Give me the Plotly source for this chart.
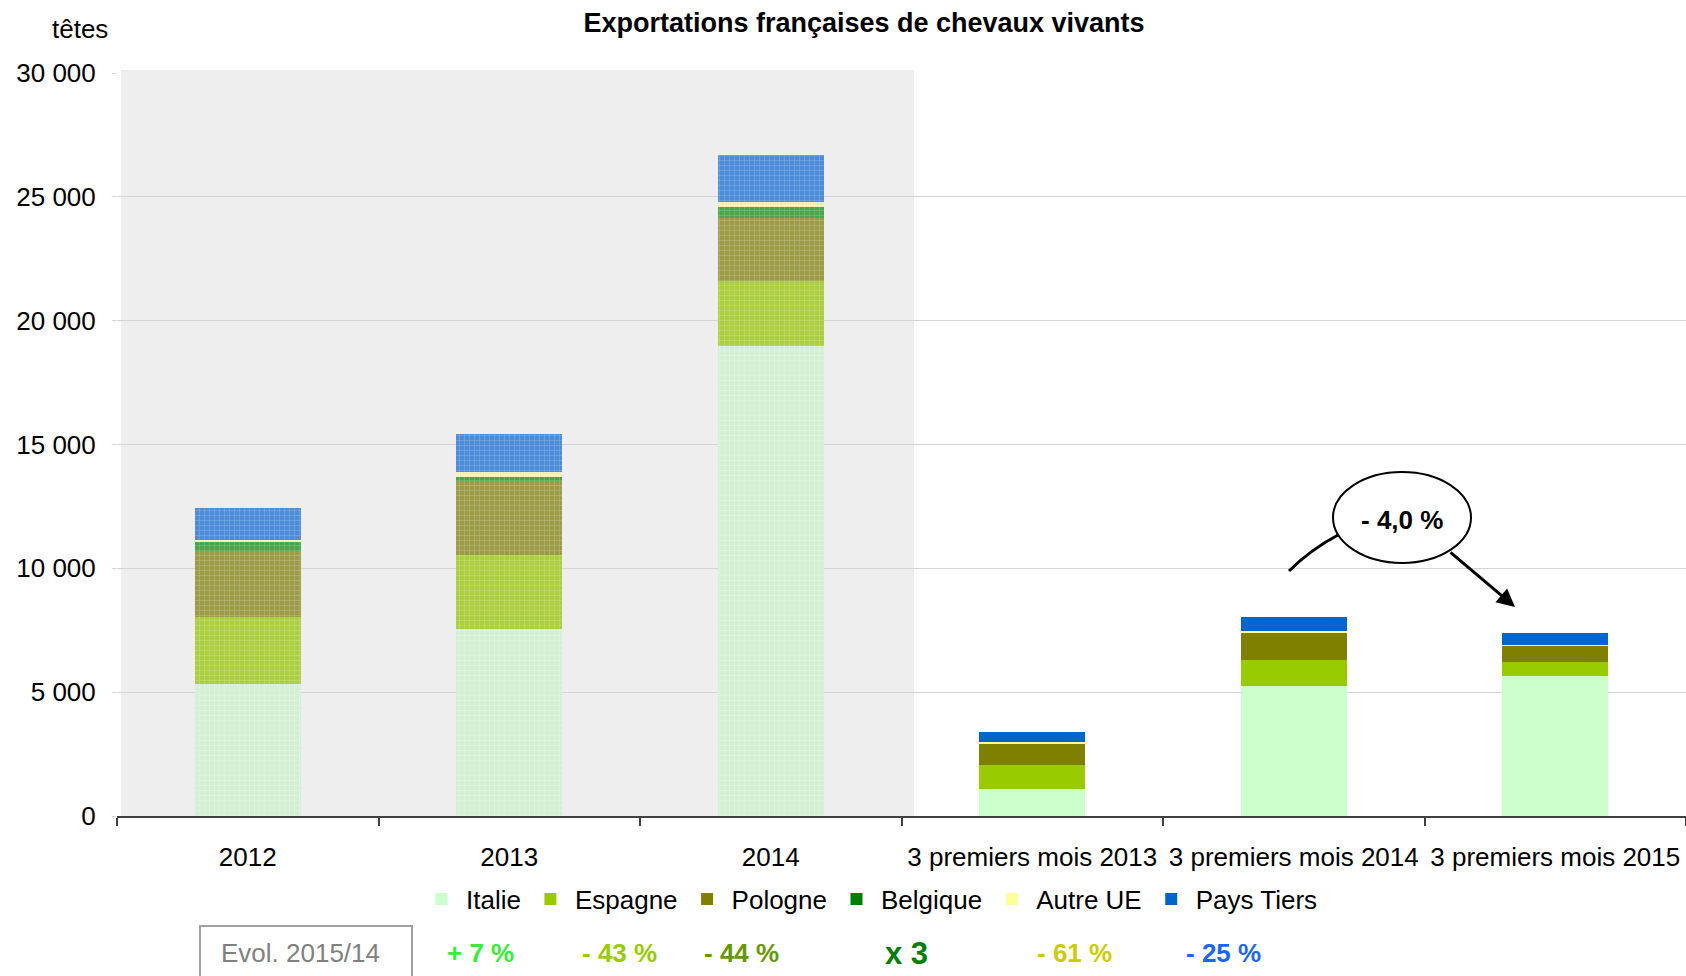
import plotly.graph_objects as go

# ---- data ----
categories = ["2012", "2013", "2014",
              "3 premiers mois 2013", "3 premiers mois 2014", "3 premiers mois 2015"]
series_names = ["Italie", "Espagne", "Pologne", "Belgique", "Autre UE", "Pays Tiers"]
italie = [5330, 7550, 18970, 1090, 5250, 5650]
espagne = [2690, 2970, 2630, 970, 1050, 570]
pologne = [2680, 3020, 2530, 850, 1090, 650]
belgique = [400, 150, 460, 10, 10, 30]
autre_ue = [50, 200, 200, 80, 80, 20]
pays_tiers = [1280, 1530, 1900, 400, 560, 470]
evol_labels = ["+ 7 %", "- 43 %", "- 44 %", "x 3", "- 61 %", "- 25 %"]
evol_total = "- 4,0 %"
y_ticks = [0, 5000, 10000, 15000, 20000, 25000, 30000]

series_values = [italie, espagne, pologne, belgique, autre_ue, pays_tiers]
solid_colors = ["#ccffcc", "#99cc00", "#808000", "#008000", "#ffff99", "#0066cc"]
faded_colors = ["#d4f0d4", "#abcf40", "#9c9c46", "#4ca44c", "#f4f0b4", "#4c8cd8"]
evol_colors = ["#33ee33", "#99cc00", "#669900", "#008000", "#cccc00", "#1a66ff"]

FONT = "Liberation Sans, Arial, sans-serif"
W, H = 1686, 976
L, R, T, B = 117, 0, 73, 160
PW, PH = W - L - R, H - T - B


def px(xp):
    return (xp - L) / PW


def py(yp):
    return (H - B - yp) / PH


fig = go.Figure()
# legend-bearing traces: partial-year (solid) bars
for name, vals, col in zip(series_names, series_values, solid_colors):
    fig.add_trace(go.Bar(
        x=categories[3:], y=vals[3:], name=name, legendgroup=name,
        marker=dict(color=col, line=dict(width=0)), width=0.405,
        hovertemplate="%{x}<br>" + name + ": %{y}<extra></extra>"))
# full-year bars with textured look
for name, vals, col in zip(series_names, series_values, faded_colors):
    fig.add_trace(go.Bar(
        x=categories[:3], y=vals[:3], name=name, legendgroup=name, showlegend=False,
        marker=dict(color=col, line=dict(width=0),
                    pattern=dict(shape="+", fgcolor="#ffffff", fgopacity=0.3,
                                 size=5, solidity=0.2)),
        width=0.405,
        hovertemplate="%{x}<br>" + name + ": %{y}<extra></extra>"))

shapes = [
    # shaded background behind full-year bars
    dict(type="rect", xref="paper", yref="paper", x0=px(121), x1=px(914),
         y0=py(818), y1=py(70), fillcolor="#eeeeee", line=dict(width=0),
         layer="below"),
    # Evol box
    dict(type="rect", xref="paper", yref="paper", x0=px(200), x1=px(412),
         y0=py(985), y1=py(926), fillcolor="rgba(0,0,0,0)",
         line=dict(color="#a0a0a0", width=2)),
    # ellipse
    dict(type="circle", xref="paper", yref="paper", x0=px(1333), x1=px(1471),
         y0=py(563), y1=py(472), fillcolor="white", line=dict(color="black", width=2)),
    # left connector curve
    dict(type="path", xref="paper", yref="paper",
         path=f"M {px(1289)},{py(571)} Q {px(1310)},{py(550)} {px(1338)},{py(535)}",
         line=dict(color="black", width=3)),
]

annotations = [
    dict(text="têtes", xref="paper", yref="paper", x=px(80), y=py(29),
         showarrow=False, font=dict(size=26, color="black", family=FONT),
         xanchor="center", yanchor="middle"),
    dict(text="<b>" + evol_total + "</b>", xref="paper", yref="paper",
         x=px(1402), y=py(520), showarrow=False,
         font=dict(size=26, color="black", family=FONT),
         xanchor="center", yanchor="middle"),
    dict(text="", xref="paper", yref="paper", x=px(1515), y=py(607),
         ax=1449 - 1515, ay=551 - 607, showarrow=True, arrowhead=2,
         arrowsize=1.2, arrowwidth=3, arrowcolor="black", standoff=0),
    dict(text="Evol. 2015/14", xref="paper", yref="paper", x=px(300), y=py(953),
         showarrow=False, font=dict(size=26, color="#808080", family=FONT),
         xanchor="center", yanchor="middle"),
]
evol_x = [480, 619, 741, 906, 1074, 1223]
for lab, col, xx in zip(evol_labels, evol_colors, evol_x):
    annotations.append(dict(
        text="<b>" + lab + "</b>", xref="paper", yref="paper", x=px(xx), y=py(953),
        showarrow=False, xanchor="center", yanchor="middle",
        font=dict(size=31 if lab.startswith("x") else 26, color=col, family=FONT)))

fig.update_layout(
    width=W, height=H,
    margin=dict(l=L, r=R, t=T, b=B, pad=0),
    paper_bgcolor="white", plot_bgcolor="rgba(0,0,0,0)",
    barmode="stack",
    separators=", ",
    font=dict(family=FONT, size=26, color="black"),
    title=dict(text="<b>Exportations françaises de chevaux vivants</b>",
               xref="container", yref="container", x=864 / W, y=1 - 23 / H,
               xanchor="center", yanchor="middle",
               font=dict(size=27, color="black", family=FONT)),
    xaxis=dict(type="category", categoryorder="array", categoryarray=categories,
               range=[-0.5, 5.5], showline=True, linecolor="#404040", linewidth=2,
               ticks="outside", tickson="boundaries", ticklen=8, tickwidth=1.5,
               tickcolor="#404040", showgrid=False, ticklabelstandoff=17,
               tickfont=dict(size=26, color="black", family=FONT)),
    yaxis=dict(range=[0, 30000], tickvals=y_ticks, tickformat=",d",
               showgrid=True, gridcolor="#d4d4d4", gridwidth=1, zeroline=False,
               showline=False, ticks="outside", ticklen=4, tickcolor="#d4d4d4",
               ticklabelstandoff=11,
               tickfont=dict(size=26, color="black", family=FONT)),
    legend=dict(orientation="h", xref="paper", yref="paper", x=px(417), y=py(899),
                xanchor="left", yanchor="middle", bgcolor="rgba(0,0,0,0)",
                itemwidth=39,
                font=dict(size=26, color="black", family=FONT),
                traceorder="normal", itemclick=False, itemdoubleclick=False),
    shapes=shapes, annotations=annotations,
    showlegend=True,
)

fig.write_html("out.html", config={"displayModeBar": False},
               post_script="document.body.style.margin='0';")
